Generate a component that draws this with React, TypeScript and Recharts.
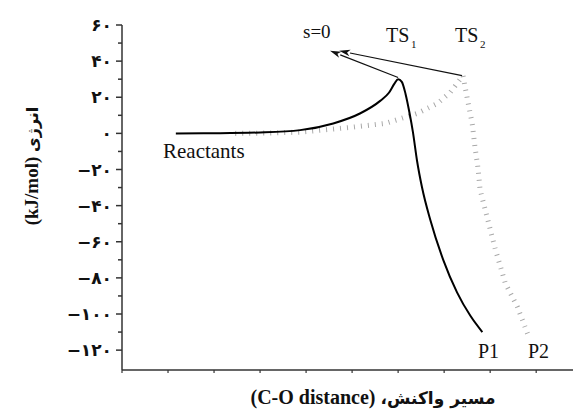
import { LineChart, Line, XAxis, YAxis, ReferenceLine } from "recharts";

// reaction path, solid (via TS1 -> P1)
const PATH1_X = [1.17, 2.13, 3.0, 3.87, 4.59, 5.17, 5.61, 5.8, 5.92, 6.0, 6.08, 6.16, 6.25, 6.32, 6.41, 6.52, 6.7, 6.98, 7.28, 7.57, 7.83];
const PATH1_Y = [0, 0.1, 0.5, 1.8, 5.5, 11, 18, 22.5, 27.5, 30, 28.5, 22, 11, 1, -15, -30, -48, -70, -88, -101, -110];

// reaction path, dotted (via TS2 -> P2)
const PATH2_X = [2.46, 3.22, 3.87, 4.96, 5.72, 6.41, 6.85, 7.13, 7.35, 7.41, 7.46, 7.52, 7.61, 7.67, 7.74, 7.78, 7.89, 8.0, 8.11, 8.33, 8.59, 8.83];
const PATH2_Y = [0, 0.2, 0.7, 3.3, 5.5, 11, 16.5, 22.6, 30, 32, 25, 17, 5.5, -7.7, -20, -31, -42, -53, -64, -83, -96, -112];

// arrows pointing at s=0 : [fromX, fromY, toX, toY]
const ARROW_TS1 = [6.0, 30.9, 4.52, 45.7];
const ARROW_TS2 = [7.39, 32, 4.72, 45.7];

const X_TICKS = [0, 1, 2, 3, 4, 5, 6, 7, 8, 9];
const Y_MAJOR = [-120, -100, -80, -60, -40, -20, 0, 20, 40, 60];
const Y_LABELS = ["−۱۲۰", "−۱۰۰", "−۸۰", "−۶۰", "−۴۰", "−۲۰", "۰", "۲۰", "۴۰", "۶۰"];
const Y_MINOR = [-110, -90, -70, -50, -30, -10, 10, 30, 50];

const path1 = PATH1_X.map((x, i) => ({ x, y: PATH1_Y[i] }));
const path2 = PATH2_X.map((x, i) => ({ x, y: PATH2_Y[i] }));
const yTicks = [...Y_MAJOR, ...Y_MINOR].sort((a, b) => a - b);

const SERIF = '"Liberation Serif", "Times New Roman", serif';
const FA = '"DejaVu Sans", sans-serif';
const AXIS = "#333";

function YTick({ x, y, payload }: any) {
  const idx = Y_MAJOR.indexOf(payload.value);
  const major = idx >= 0;
  return (
    <g>
      <line x1={x - (major ? 6 : 4)} x2={x} y1={y} y2={y} stroke={AXIS} strokeWidth={1.5} />
      {major && (
        <text x={x - 10} y={y} dy={6} textAnchor="end" fontFamily={FA} fontWeight="bold" fontSize={17} fill="#111">
          {Y_LABELS[idx]}
        </text>
      )}
    </g>
  );
}

function XTick({ x, y }: any) {
  return <line x1={x} x2={x} y1={y} y2={y + 3} stroke={AXIS} strokeWidth={1.2} />;
}

function arrowShape(props: any) {
  const { x1, y1, x2, y2 } = props;
  const dx = x2 - x1;
  const dy = y2 - y1;
  const len = Math.sqrt(dx * dx + dy * dy) || 1;
  const ux = dx / len;
  const uy = dy / len;
  const hl = 11;
  const hw = 3.2;
  const bx = x2 - ux * hl;
  const by = y2 - uy * hl;
  return (
    <g>
      <line x1={x1} y1={y1} x2={bx} y2={by} stroke="#111" strokeWidth={1.2} />
      <polygon
        points={`${x2},${y2} ${bx - uy * hw},${by + ux * hw} ${bx + ux * 3},${by + uy * 3} ${bx + uy * hw},${by - ux * hw}`}
        fill="#111"
      />
    </g>
  );
}

export default function App() {
  return (
    <div style={{ position: "absolute", left: 0, top: 0, width: 573, height: 414, background: "#fff" }}>
      <LineChart width={573} height={414} margin={{ top: 25, right: 0, bottom: 0, left: 0 }}>
        <XAxis
          type="number"
          dataKey="x"
          height={44}
          domain={[0, 9.8]}
          ticks={X_TICKS}
          allowDataOverflow
          axisLine={{ stroke: AXIS, strokeWidth: 1.5 }}
          tickLine={false}
          tickSize={0}
          tickMargin={0}
          tick={<XTick />}
          interval={0}
        />
        <YAxis
          type="number"
          dataKey="y"
          width={122}
          domain={[-131, 60]}
          ticks={yTicks}
          allowDataOverflow
          axisLine={{ stroke: AXIS, strokeWidth: 1.5 }}
          tickLine={false}
          tickSize={0}
          tickMargin={0}
          tick={<YTick />}
          interval={0}
        />
        <Line
          data={path2}
          dataKey="y"
          type="linear"
          stroke="#a8a8a8"
          strokeWidth={5}
          strokeDasharray="1 6"
          dot={false}
          isAnimationActive={false}
        />
        <Line
          data={path1}
          dataKey="y"
          type="monotone"
          stroke="#000"
          strokeWidth={2}
          dot={false}
          isAnimationActive={false}
        />
        <ReferenceLine
          segment={[
            { x: ARROW_TS1[0], y: ARROW_TS1[1] },
            { x: ARROW_TS1[2], y: ARROW_TS1[3] },
          ]}
          shape={arrowShape}
        />
        <ReferenceLine
          segment={[
            { x: ARROW_TS2[0], y: ARROW_TS2[1] },
            { x: ARROW_TS2[2], y: ARROW_TS2[3] },
          ]}
          shape={arrowShape}
        />
      </LineChart>
      <svg width={573} height={414} style={{ position: "absolute", left: 0, top: 0, pointerEvents: "none" }}>
        <g fontFamily={SERIF} fill="#111">
          <text x={303} y={38} fontSize={19}>s=0</text>
          <text x={386} y={42} fontSize={20}>TS</text>
          <text x={411} y={48} fontSize={11}>1</text>
          <text x={455} y={42} fontSize={20}>TS</text>
          <text x={480} y={48} fontSize={11}>2</text>
          <text x={163} y={158} fontSize={21}>Reactants</text>
          <text x={478} y={358} fontSize={20}>P1</text>
          <text x={528} y={358} fontSize={20}>P2</text>
        </g>
        <text x={373} y={404} textAnchor="middle" fontWeight="bold" fontSize={20} fill="#111">
          <tspan fontFamily={SERIF}>(C-O distance) </tspan>
          <tspan fontFamily={FA} fontSize={17}>،مسیر واکنش</tspan>
        </text>
        <text
          transform="translate(38,166) rotate(-90)"
          textAnchor="middle"
          fontWeight="bold"
          fontSize={19}
          fill="#111"
        >
          <tspan fontFamily={SERIF}>(kJ/mol) </tspan>
          <tspan fontFamily={FA} fontSize={16}>انرژی</tspan>
        </text>
      </svg>
    </div>
  );
}
